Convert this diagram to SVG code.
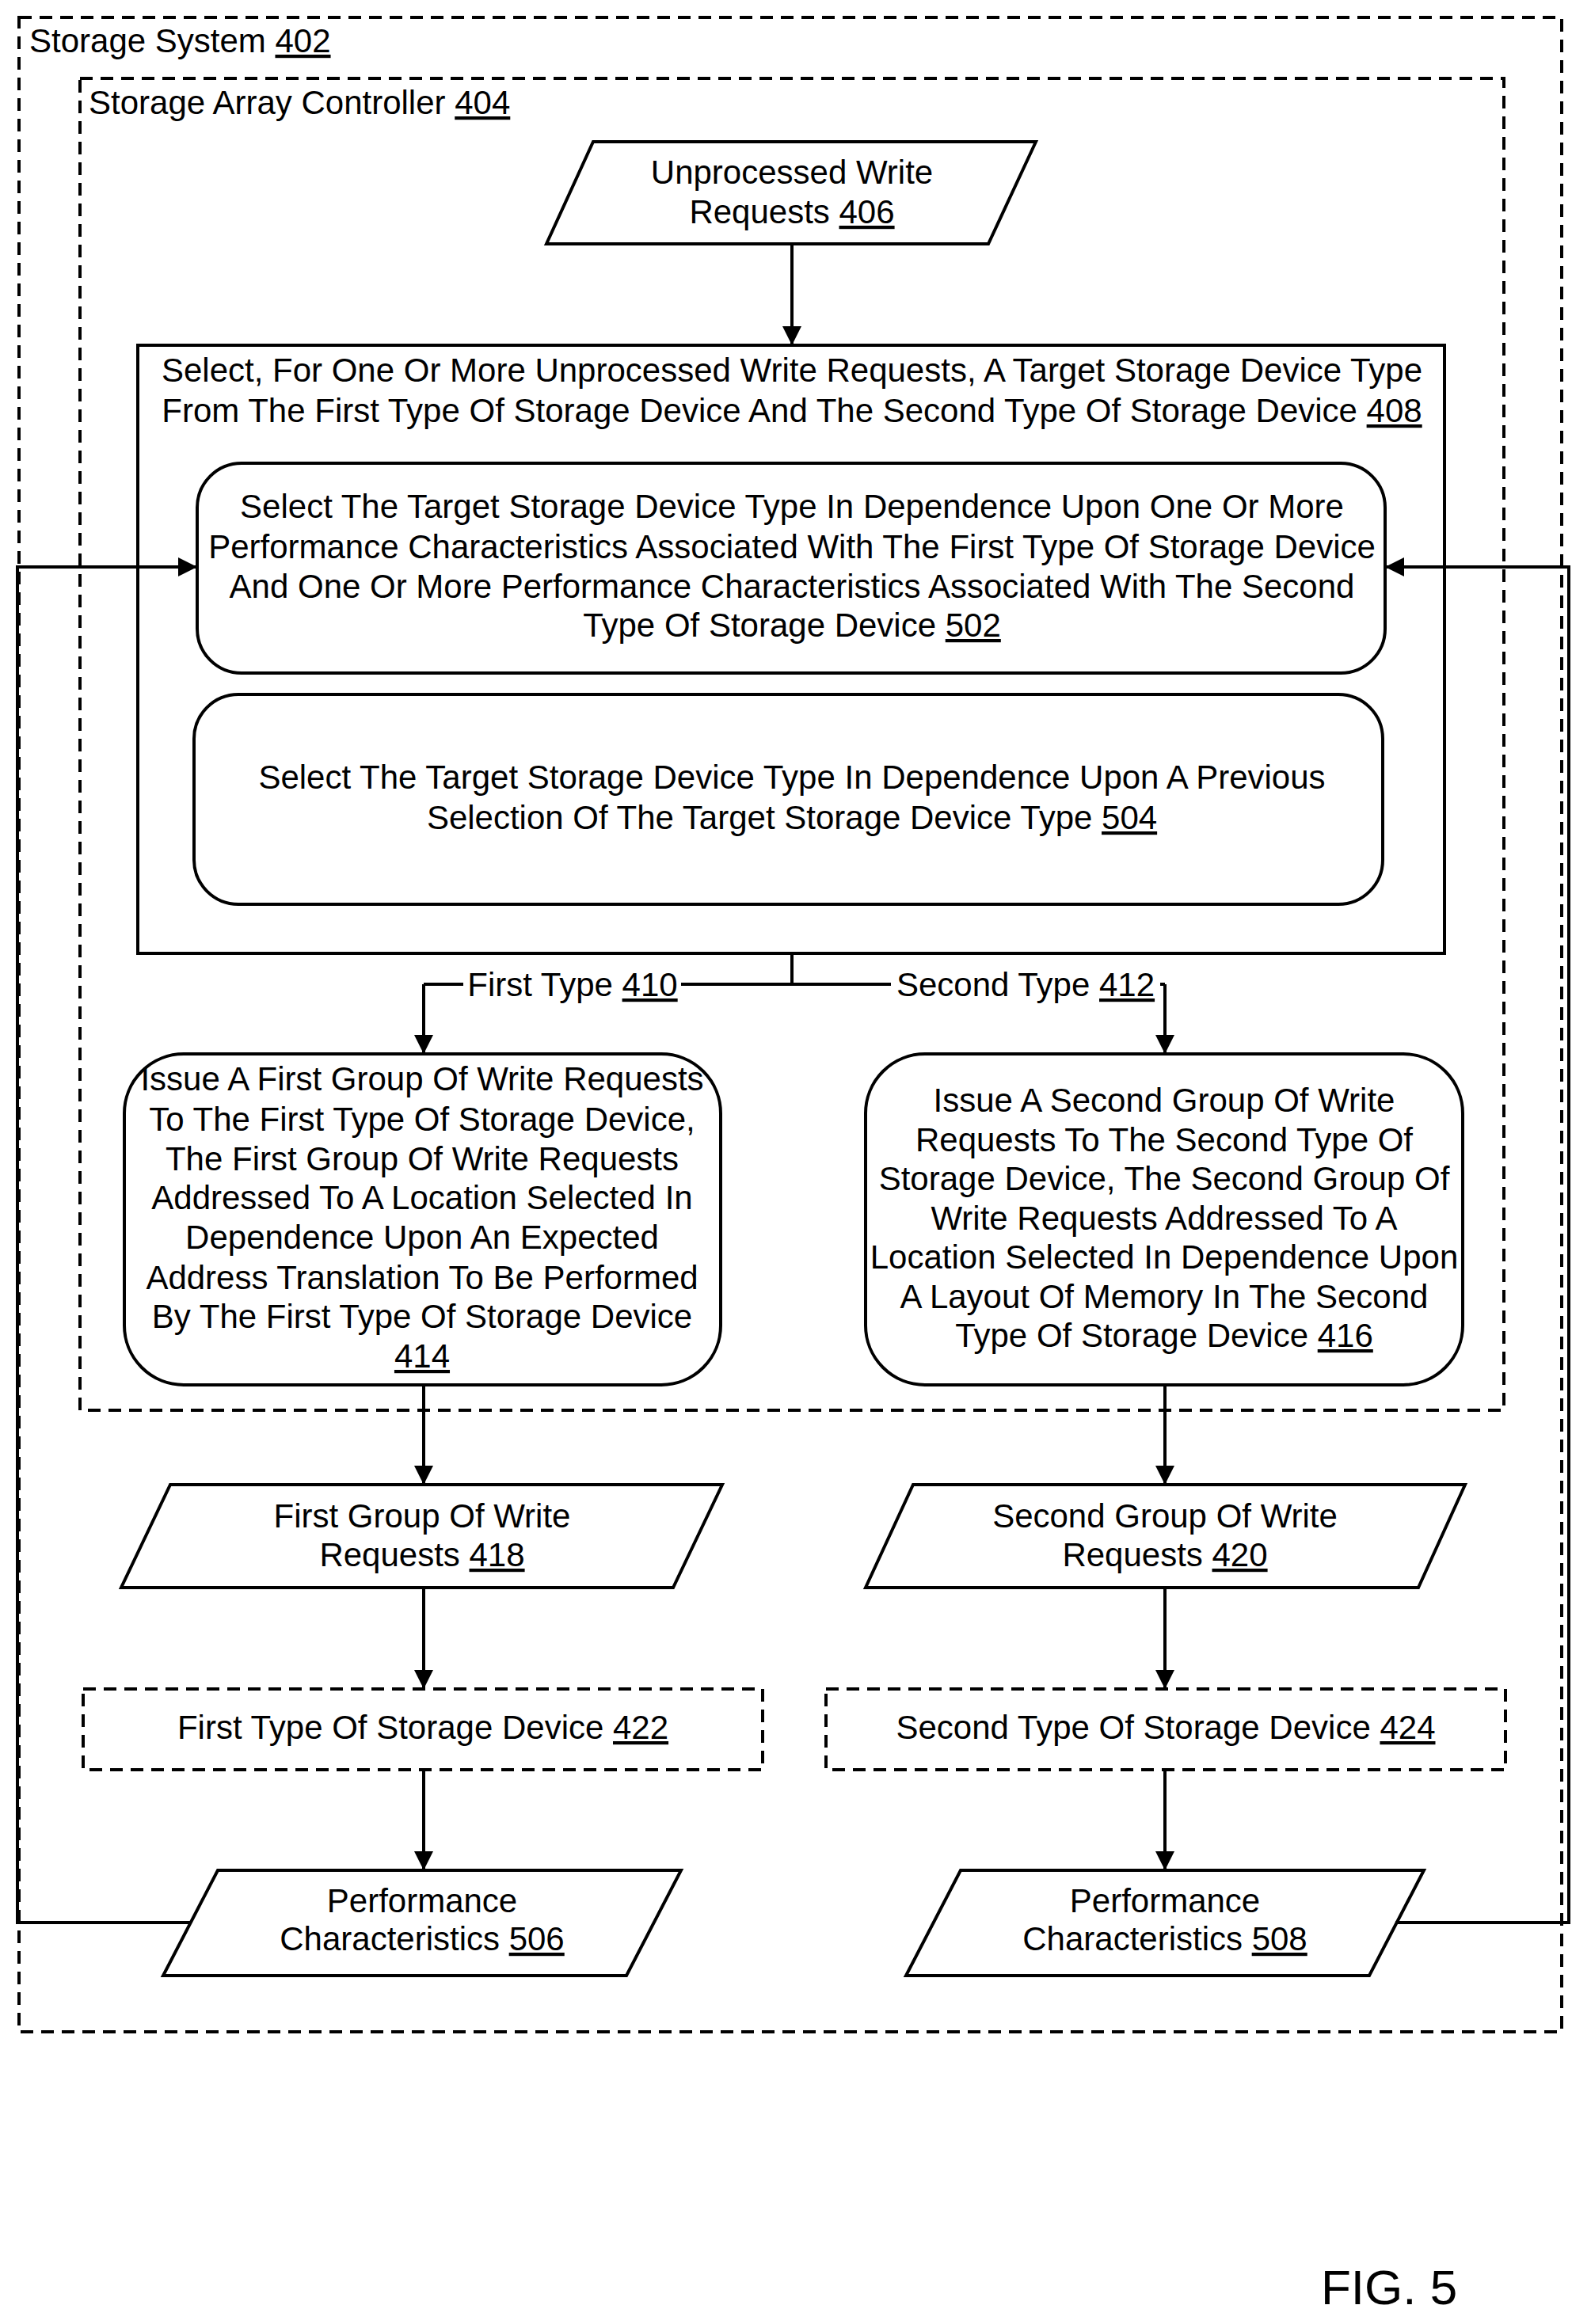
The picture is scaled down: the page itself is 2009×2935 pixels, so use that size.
<svg xmlns="http://www.w3.org/2000/svg" width="2009" height="2935" viewBox="0 0 2009 2935">
<defs>
<marker id="ah" viewBox="0 0 10 10" refX="10" refY="5" markerWidth="7" markerHeight="7" markerUnits="userSpaceOnUse" orient="auto"><path d="M0,0 L10,5 L0,10 z" fill="#000"/></marker>
<marker id="a" viewBox="0 0 10 10" refX="10" refY="5" markerWidth="6" markerHeight="6" orient="auto"><path d="M0,0 L10,5 L0,10 z" fill="#000"/></marker>
<style>
text{font-family:"Liberation Sans",Arial,sans-serif;font-size:42px;fill:#000;text-anchor:middle}
.l{text-anchor:start}
.n{text-decoration:underline}
.s{fill:#fff;stroke:#000;stroke-width:4}
.d{fill:none;stroke:#000;stroke-width:4;stroke-dasharray:16 10}
.c{fill:none;stroke:#000;stroke-width:4;marker-end:url(#a)}
.p{fill:none;stroke:#000;stroke-width:4}
</style>
</defs>
<rect width="2009" height="2935" fill="#fff"/>
<g id="n402"><rect class="d" x="24" y="22" width="1948" height="2544"/><text class="l" x="37" y="66">Storage System  <tspan class="n">402</tspan></text></g>
<g id="n404"><rect class="d" x="101" y="99" width="1798" height="1682"/><text class="l" x="112" y="144">Storage Array Controller  <tspan class="n">404</tspan></text></g>
<g id="n406"><polygon class="s" points="749,179 1308,179 1248,308 690,308"/><text x="1000" y="232">Unprocessed Write</text><text x="1000" y="282">Requests  <tspan class="n">406</tspan></text></g>
<g id="n408"><rect class="s" x="174" y="436" width="1650" height="768"/><text x="1000" y="482">Select, For One Or More Unprocessed Write Requests, A Target Storage Device Type</text><text x="1000" y="533">From The First Type Of Storage Device And The Second Type Of Storage Device  <tspan class="n">408</tspan></text></g>
<g id="n502"><rect class="s" x="249" y="585" width="1500" height="265" rx="56"/><text x="1000" y="654">Select The Target Storage Device Type In Dependence Upon One Or More</text><text x="1000" y="705">Performance Characteristics Associated With The First Type Of Storage Device</text><text x="1000" y="755">And One Or More Performance Characteristics Associated With The Second</text><text x="1000" y="804">Type Of Storage Device  <tspan class="n">502</tspan></text></g>
<g id="n504"><rect class="s" x="245" y="877" width="1501" height="265" rx="56"/><text x="1000" y="996">Select The Target Storage Device Type In Dependence Upon A Previous</text><text x="1000" y="1047">Selection Of The Target Storage Device Type  <tspan class="n">504</tspan></text></g>
<g id="n414"><rect class="s" x="157" y="1331" width="753" height="418" rx="75"/><text x="533" y="1377">Issue A First Group Of Write Requests</text><text x="533" y="1428">To The First Type Of Storage Device,</text><text x="533" y="1478">The First Group Of Write Requests</text><text x="533" y="1527">Addressed To A Location Selected In</text><text x="533" y="1577">Dependence Upon An Expected</text><text x="533" y="1628">Address Translation To Be Performed</text><text x="533" y="1677">By The First Type Of Storage Device</text><text x="533" y="1727" class="n">414</text></g>
<g id="n416"><rect class="s" x="1093" y="1331" width="754" height="418" rx="75"/><text x="1470" y="1404">Issue A Second Group Of Write</text><text x="1470" y="1454">Requests To The Second Type Of</text><text x="1470" y="1503">Storage Device, The Second Group Of</text><text x="1470" y="1553">Write Requests Addressed To A</text><text x="1470" y="1602">Location Selected In Dependence Upon</text><text x="1470" y="1652">A Layout Of Memory In The Second</text><text x="1470" y="1701">Type Of Storage Device  <tspan class="n">416</tspan></text></g>
<g id="n418"><polygon class="s" points="215,1875 912,1875 850,2005 153,2005"/><text x="533" y="1929">First Group Of Write</text><text x="533" y="1978">Requests  <tspan class="n">418</tspan></text></g>
<g id="n420"><polygon class="s" points="1153,1875 1850,1875 1791,2005 1093,2005"/><text x="1471" y="1929">Second Group Of Write</text><text x="1471" y="1978">Requests  <tspan class="n">420</tspan></text></g>
<g id="n422"><rect class="d" x="105" y="2133" width="858" height="102"/><text x="534" y="2196">First Type Of Storage Device  <tspan class="n">422</tspan></text></g>
<g id="n424"><rect class="d" x="1043" y="2133" width="858" height="102"/><text x="1472" y="2196">Second Type Of Storage Device  <tspan class="n">424</tspan></text></g>
<g id="n506"><polygon class="s" points="275,2362 860,2362 791,2495 206,2495"/><text x="533" y="2415">Performance</text><text x="533" y="2463">Characteristics  <tspan class="n">506</tspan></text></g>
<g id="n508"><polygon class="s" points="1213,2362 1798,2362 1729,2495 1144,2495"/><text x="1471" y="2415">Performance</text><text x="1471" y="2463">Characteristics  <tspan class="n">508</tspan></text></g>
<g id="connectors">
<line class="c" x1="1000" y1="308" x2="1000" y2="436"/>
<path class="p" d="M1000,1204 V1243 M535,1243 H1471"/>
<path class="c" d="M535,1243 V1331"/>
<path class="c" d="M1471,1243 V1331"/>
<rect x="585" y="1218" width="275" height="48" fill="#fff"/>
<text x="723" y="1258">First Type  <tspan class="n">410</tspan></text>
<rect x="1125" y="1218" width="340" height="48" fill="#fff"/>
<text x="1295" y="1258">Second Type  <tspan class="n">412</tspan></text>
<line class="c" x1="535" y1="1749" x2="535" y2="1875"/>
<line class="c" x1="1471" y1="1749" x2="1471" y2="1875"/>
<line class="c" x1="535" y1="2005" x2="535" y2="2133"/>
<line class="c" x1="1471" y1="2005" x2="1471" y2="2133"/>
<line class="c" x1="535" y1="2235" x2="535" y2="2362"/>
<line class="c" x1="1471" y1="2235" x2="1471" y2="2362"/>
<path class="c" d="M240,2428 H22 V716 H249"/>
<path class="c" d="M1762,2428 H1981 V716 H1749"/>
</g>
<text class="l" x="1668" y="2910" style="font-size:62px">FIG. 5</text>
</svg>
